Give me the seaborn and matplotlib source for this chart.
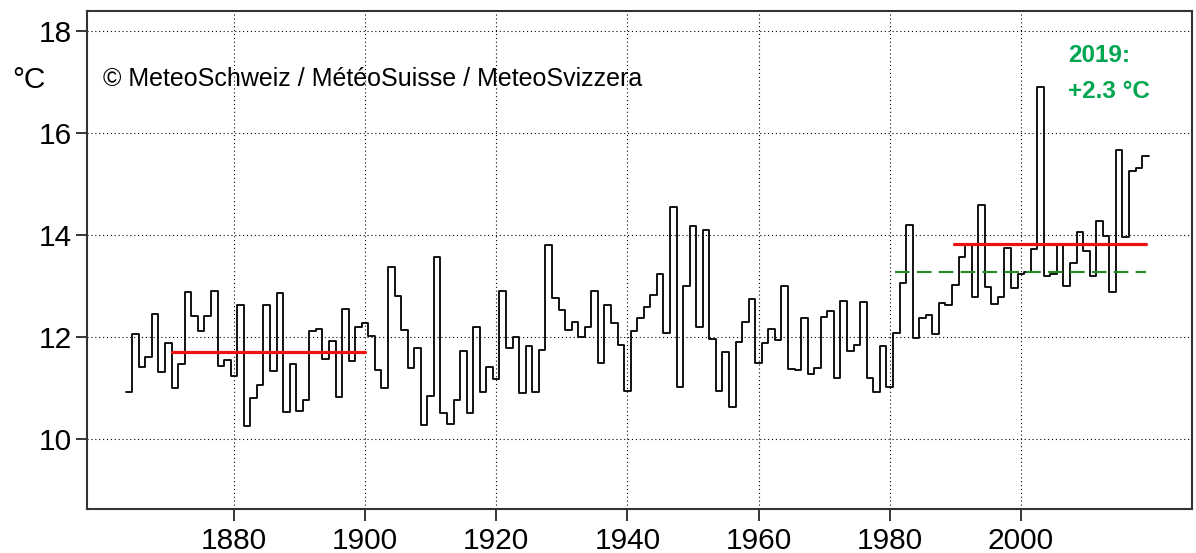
import matplotlib
matplotlib.use("Agg")
import matplotlib.pyplot as plt
import seaborn as sns
import numpy as np
import pandas as pd

years = list(range(1864, 2020))
temps = [
    10.92, 12.05, 11.42, 11.60, 12.46, 11.32,                                # 1864-1869
    11.88, 11.00, 11.47, 12.88, 12.41, 12.12, 12.41, 12.91, 11.43, 11.55,  # 1870s
    11.24, 12.63, 10.26, 10.80, 11.07, 12.62, 11.33, 12.86, 10.54, 11.48,  # 1880s
    10.56, 10.76, 12.12, 12.15, 11.56, 11.92, 10.83, 12.55, 11.54, 12.20,  # 1890s
    12.27, 12.03, 11.35, 11.00, 13.37, 12.80, 12.14, 11.39, 11.78, 10.28,  # 1900s
    10.85, 13.57, 10.51, 10.29, 10.77, 11.72, 10.52, 12.20, 10.92, 11.41,  # 1910s
    11.17, 12.91, 11.78, 12.00, 10.90, 11.82, 10.92, 11.75, 13.80, 12.77,  # 1920s
    12.53, 12.14, 12.29, 12.00, 12.20, 12.91, 11.50, 12.62, 12.27, 11.85,  # 1930s
    10.95, 12.12, 12.37, 12.58, 12.83, 13.23, 12.07, 14.55, 11.03, 13.01,  # 1940s
    14.17, 12.20, 14.09, 11.97, 10.95, 11.70, 10.63, 11.90, 12.29, 12.74,  # 1950s
    11.49, 11.88, 12.15, 11.95, 13.00, 11.37, 11.35, 12.37, 11.27, 11.40,  # 1960s
    12.40, 12.52, 11.19, 12.70, 11.73, 11.84, 12.69, 11.19, 10.92, 11.82,  # 1970s
    11.03, 12.08, 13.05, 14.19, 11.98, 12.37, 12.43, 12.05, 12.67, 12.62,  # 1980s
    13.02, 13.57, 13.81, 12.79, 14.59, 12.99, 12.64, 12.79, 13.74, 12.97,  # 1990s
    13.24, 13.28, 13.72, 16.90, 13.20, 13.23, 13.82, 13.00, 13.46, 14.05,  # 2000s
    13.69, 13.20, 14.28, 13.99, 12.88, 15.66, 13.97, 15.25, 15.32, 15.54,  # 2010s
]

# reference means
norm1_x = [1870.6, 1900.0]
norm1_y = [11.71, 11.71]
norm2_x = [1989.8, 2019.1]
norm2_y = [13.83, 13.83]
norm3_x = [1980.8, 2019.1]
norm3_y = [13.27, 13.27]

xticks = [1880, 1900, 1920, 1940, 1960, 1980, 2000]
yticks = [10, 12, 14, 16, 18]

sns.set_theme(style="white")
plt.rcParams['font.family'] = ['Liberation Sans', 'DejaVu Sans']
plt.rcParams['text.color'] = 'black'
plt.rcParams['xtick.color'] = 'black'
plt.rcParams['ytick.color'] = 'black'
plt.rcParams['xtick.labelcolor'] = 'black'
plt.rcParams['ytick.labelcolor'] = 'black'

W, H = 1196, 553
fig = plt.figure(figsize=(W / 100, H / 100), dpi=100)
ax = fig.add_axes([87 / W, 1 - 509 / H, (1192 - 87) / W, (509 - 11) / H])

# step edges: each year spans year-0.5 .. year+0.5
edges_x = [y - 0.5 for y in years] + [years[-1] + 0.5]
edges_y = temps + [temps[-1]]
df = pd.DataFrame({"x": edges_x, "y": edges_y})
sns.lineplot(data=df, x="x", y="y", ax=ax, color="black", linewidth=1.3,
             drawstyle="steps-post", estimator=None, zorder=3)

sns.lineplot(x=norm1_x, y=norm1_y, ax=ax, color="#ee1111", linewidth=2.3, zorder=4)
sns.lineplot(x=norm2_x, y=norm2_y, ax=ax, color="#ee1111", linewidth=2.3, zorder=4)
sns.lineplot(x=norm3_x, y=norm3_y, ax=ax, color="#228b22", linewidth=1.5, zorder=4)
ax.lines[-1].set_dashes([7, 3.5])

ax.set_xlim(1857.6, 2026.1)
ax.set_ylim(8.63, 18.39)
ax.set_xticks(xticks)
ax.set_yticks(yticks)
ax.set_xticklabels([str(t) for t in xticks], fontsize=21.5, color="black")
ax.set_yticklabels([str(t) for t in yticks], fontsize=21.5, color="black")
ax.set_xlabel("")
ax.set_ylabel("")

ax.grid(True, color="black", linestyle=(0, (1, 2.5)), linewidth=0.8)
ax.tick_params(axis="x", direction="out", length=8.3, width=1.1, colors="black",
               pad=4.5, bottom=True)
ax.tick_params(axis="y", direction="out", length=8, width=1.1, colors="black",
               pad=3, left=True)
for s in ax.spines.values():
    s.set_color("#333333")
    s.set_linewidth(1.5)
    s.set_visible(True)

fig.text(29 / W, 1 - 80 / H, "°C", fontsize=21.5, ha="center", va="center",
         color="black")
fig.text(103 / W, 1 - 79 / H, "© MeteoSchweiz / MétéoSuisse / MeteoSvizzera",
         fontsize=18, ha="left", va="center", color="black")
fig.text(1068 / W, 1 - 55 / H, "2019:", fontsize=17.5, fontweight="bold",
         color="#00a550", ha="left", va="center")
fig.text(1068 / W, 1 - 92 / H, "+2.3 °C", fontsize=17.5, fontweight="bold",
         color="#00a550", ha="left", va="center")

fig.savefig("out.png", dpi=100)
